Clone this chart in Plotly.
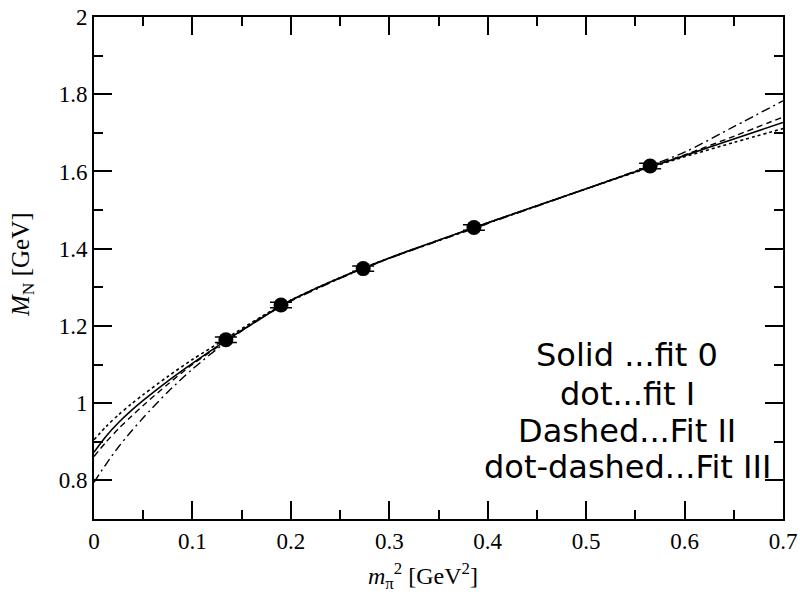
import plotly.graph_objects as go

# data points (m_pi^2, M_N) with errors
pts_x = [0.134, 0.190, 0.2735, 0.386, 0.565]
pts_y = [1.164, 1.254, 1.3485, 1.455, 1.614]
pts_err = [0.007, 0.007, 0.007, 0.007, 0.007]

# fit curves
curve_x = [0.0, 0.0125, 0.025, 0.0375, 0.05, 0.075, 0.1, 0.134, 0.17, 0.2, 0.25, 0.3, 0.35, 0.4, 0.45, 0.5, 0.55, 0.6, 0.65, 0.7]
fit0 = [0.873, 0.915, 0.950, 0.980, 1.007, 1.057, 1.103, 1.162, 1.220, 1.266, 1.325, 1.376, 1.422, 1.467, 1.511, 1.555, 1.599, 1.641, 1.684, 1.727]
fit1 = [0.905, 0.940, 0.970, 0.997, 1.022, 1.069, 1.113, 1.167, 1.224, 1.267, 1.325, 1.376, 1.422, 1.467, 1.511, 1.555, 1.598, 1.638, 1.675, 1.711]
fit2 = [0.862, 0.900, 0.934, 0.965, 0.994, 1.049, 1.100, 1.160, 1.220, 1.266, 1.324, 1.375, 1.421, 1.467, 1.511, 1.555, 1.600, 1.643, 1.691, 1.741]
fit3 = [0.795, 0.843, 0.887, 0.926, 0.962, 1.029, 1.088, 1.158, 1.222, 1.264, 1.323, 1.375, 1.420, 1.465, 1.510, 1.555, 1.601, 1.650, 1.716, 1.783]

x_ticks = [0, 0.1, 0.2, 0.3, 0.4, 0.5, 0.6, 0.7]
x_ticktext = ["0", "0.1", "0.2", "0.3", "0.4", "0.5", "0.6", "0.7"]
y_ticks = [0.8, 1.0, 1.2, 1.4, 1.6, 1.8, 2.0]
y_ticktext = ["0.8", "1", "1.2", "1.4", "1.6", "1.8", "2"]

legend_lines = ["Solid ...fit 0", "dot...fit I", "Dashed...Fit II", "dot-dashed...Fit III"]
legend_y = [1.124, 1.023, 0.928, 0.834]

fig = go.Figure()
styles = [(fit0, "solid", 1.6), (fit1, "dot", 1.6), (fit2, "6px,4px", 1.4), (fit3, "9px,4px,2px,4px", 1.4)]
for ys, dash, w in styles:
    fig.add_trace(go.Scatter(x=curve_x, y=ys, mode="lines",
                             line=dict(color="black", width=w, dash=dash, shape="spline", smoothing=0.8),
                             showlegend=False, hoverinfo="skip"))

fig.add_trace(go.Scatter(x=pts_x, y=pts_y, mode="markers",
                         marker=dict(color="black", size=15),
                         error_y=dict(type="data", array=pts_err, color="black", thickness=1.5, width=11),
                         showlegend=False))

for txt, yy in zip(legend_lines, legend_y):
    fig.add_annotation(x=0.5417, y=yy, xref="x", yref="y", text=txt, showarrow=False,
                       align="center", xanchor="center", yanchor="middle",
                       font=dict(family="DejaVu Sans", size=32, color="black"))

# axis titles
fig.add_annotation(x=(423 - 94) / 689, y=0, xref="paper", yref="paper", yshift=-57,
                   text="<i>m</i><sub>π</sub><sup>2</sup> [GeV<sup>2</sup>]", showarrow=False,
                   xanchor="center", yanchor="middle",
                   font=dict(family="Liberation Serif", size=24, color="black"))
fig.add_annotation(x=0, y=(519 - 265) / 502, xref="paper", yref="paper", xshift=-72,
                   text="<i>M</i><sub>N</sub> [GeV]", showarrow=False, textangle=-90,
                   xanchor="center", yanchor="middle",
                   font=dict(family="Liberation Serif", size=25, color="black"))

axis_common = dict(showline=True, linecolor="black", linewidth=2, mirror="allticks",
                   ticks="inside", ticklen=18, tickwidth=1.5, tickcolor="black",
                   showgrid=False, zeroline=False, automargin=False,
                   tickfont=dict(family="Liberation Serif", size=23, color="black"))

fig.update_xaxes(range=[0, 0.7], tickvals=x_ticks, ticktext=x_ticktext,
                 minor=dict(ticks="inside", ticklen=9, dtick=0.05, tick0=0, tickcolor="black", tickwidth=1.5),
                 **axis_common)
fig.update_yaxes(range=[0.7, 2.0], tickvals=y_ticks, ticktext=y_ticktext,
                 minor=dict(ticks="inside", ticklen=9, dtick=0.1, tick0=0, tickcolor="black", tickwidth=1.5),
                 **axis_common)

fig.update_layout(width=800, height=594, margin=dict(l=94, r=17, t=17, b=75),
                  plot_bgcolor="white", paper_bgcolor="white")

fig.write_html("out.html")
